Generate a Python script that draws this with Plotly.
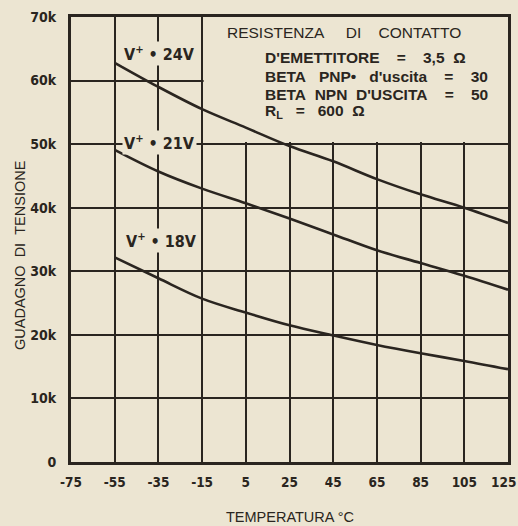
import plotly.graph_objects as go

NB = "\u00a0"

temps = [-55, -35, -15, 5, 25, 45, 65, 85, 105, 125]
gain_24v = [62800, 59000, 55500, 52600, 49700, 47300, 44500, 42100, 40000, 37600]
gain_21v = [49100, 45700, 43000, 40700, 38300, 35800, 33300, 31300, 29300, 27100]
gain_18v = [32200, 28900, 25700, 23500, 21500, 19900, 18400, 17100, 15900, 14600]

x_ticks = [-75, -55, -35, -15, 5, 25, 45, 65, 85, 105, 125]
x_tick_labels = ["-75", "-55", "-35", "-15", "5", "25", "45", "65", "85", "105", "125" + NB * 2]
y_ticks = [0, 10000, 20000, 30000, 40000, 50000, 60000, 70000]
y_tick_labels = ["0", "10k", "20k", "30k", "40k", "50k", "60k", "70k"]

series_labels = [f"V<sup>+</sup>{NB}•{NB}24V", f"V<sup>+</sup>{NB}•{NB}21V", f"V<sup>+</sup>{NB}•{NB}18V"]
label_pos = [(-34.5, 64200), (-34.5, 50200), (-33.5, 34900)]

box_title = f"RESISTENZA{NB*5}DI{NB*4}CONTATTO"
box_lines = [f"D'EMETTITORE{NB*4}={NB*4}3,5{NB*2}Ω",
             f"BETA{NB*3}PNP•{NB*3}d'uscita{NB*4}={NB*4}30",
             f"BETA{NB*2}NPN{NB*2}D'USCITA{NB*4}={NB*4}50",
             f"R<sub>L</sub>{NB*3}={NB*3}600{NB*2}Ω"]

BG = "#ece5d2"
INK = "#2a2520"
CFONT = "DejaVu Sans Condensed, Liberation Sans Narrow, Liberation Sans, sans-serif"
FONT = "Liberation Sans, Arial, sans-serif"

fig = go.Figure()
for ys in (gain_24v, gain_21v, gain_18v):
    fig.add_trace(go.Scatter(x=temps, y=ys, mode="lines",
                             line=dict(color=INK, width=2.6, shape="spline"),
                             showlegend=False, hoverinfo="skip"))

# box covering grid in the upper right
fig.add_shape(type="rect", xref="x", yref="y", x0=-14.3, x1=125, y0=50350, y1=70000,
              fillcolor=BG, line=dict(width=0), layer="between")

for txt, (lx, ly) in zip(series_labels, label_pos):
    fig.add_annotation(x=lx, y=ly, text=txt, showarrow=False, bgcolor=BG,
                       font=dict(family=CFONT, size=16, color=INK, weight="bold"),
                       borderpad=1)

fig.add_annotation(xref="paper", yref="paper", x=(225-71)/437, y=(462-33)/445,
                   xanchor="left", yanchor="middle", text=box_title, showarrow=False,
                   font=dict(family=FONT, size=15.5, color=INK))
for i, line in enumerate(box_lines):
    fig.add_annotation(xref="paper", yref="paper", x=(263-71)/437, y=(462-(58+18*i))/445,
                       xanchor="left", yanchor="middle", text=line, showarrow=False,
                       font=dict(family=FONT, size=15.5, color=INK, weight="bold"))

# axis titles
fig.add_annotation(xref="paper", yref="paper", x=(20-71)/437, y=(462-255)/445,
                   xanchor="center", yanchor="middle", textangle=-90,
                   text=f"GUADAGNO{NB*2}DI{NB*2}TENSIONE", showarrow=False,
                   font=dict(family=FONT, size=14.5, color=INK))
fig.add_annotation(xref="paper", yref="paper", x=(290-71)/437, y=(462-517)/445,
                   xanchor="center", yanchor="middle",
                   text="TEMPERATURA °C", showarrow=False,
                   font=dict(family=FONT, size=14.5, color=INK))

fig.update_xaxes(range=[-75, 125], tickvals=x_ticks, ticktext=x_tick_labels, ticks="",
                 showgrid=True, gridcolor=INK, gridwidth=1.6, zeroline=False,
                 showline=True, linecolor=INK, linewidth=3, mirror=True,
                 ticklabelstandoff=6, ticklabeloverflow="allow", automargin=False,
                 tickfont=dict(family=CFONT, size=13.5, color=INK, weight="bold"))
fig.update_yaxes(range=[0, 70000], tickvals=y_ticks, ticktext=y_tick_labels, ticks="",
                 showgrid=True, gridcolor=INK, gridwidth=1.6, zeroline=False,
                 showline=True, linecolor=INK, linewidth=3, mirror=True,
                 ticklabelstandoff=9, ticklabeloverflow="allow", automargin=False,
                 tickfont=dict(family=CFONT, size=14, color=INK, weight="bold"))

fig.update_layout(width=518, height=526, paper_bgcolor=BG, plot_bgcolor=BG,
                  margin=dict(l=71, r=10, t=17, b=64, autoexpand=False))

fig.write_html("out.html", config={"displayModeBar": False},
               post_script="document.body.style.margin='0px';document.body.style.overflow='hidden';")
